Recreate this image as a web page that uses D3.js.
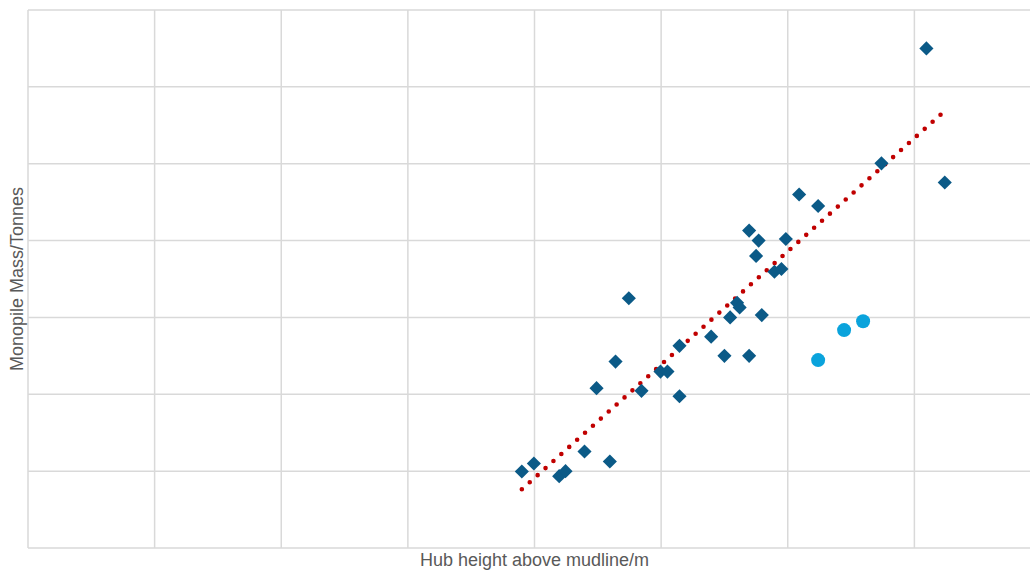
<!DOCTYPE html>
<html>
<head>
<meta charset="utf-8">
<title>Monopile mass vs hub height</title>
<script src="https://d3js.org/d3.v7.min.js"></script>
<style>
  body { margin: 0; background: #fff; }
  .grid line { stroke: #d9d9d9; stroke-width: 1.5; }
  .label { font-family: "Liberation Sans", Arial, sans-serif; font-size: 18px; fill: #595959; }
</style>
</head>
<body>
<svg id="chart" width="1030" height="571"></svg>
<script>
// hub height above mudline (m) and monopile mass (t)
var hubHeight = [78.0, 79.9, 83.9, 84.9, 87.9, 91.9, 89.8, 92.8, 94.9, 96.9,
                 99.9, 101.0, 102.9, 102.9, 107.9, 110.0, 113.9, 110.9, 112.0, 112.4,
                 115.9, 113.9, 115.4, 115.0, 117.9, 119.0, 119.7, 121.8, 124.8, 134.8,
                 141.9, 144.8];
var pileMass = [199, 220, 187, 200, 251, 225, 416, 485, 650, 409,
                459, 459, 526, 395, 550, 500, 500, 600, 638, 626,
                606, 826, 800, 760, 719, 726, 804, 920, 890, 1001,
                1300, 951];
// second series (circles)
var hubHeight2 = [124.8, 128.9, 131.9];
var pileMass2 = [489, 567, 590];

var xTicks = [0, 20, 40, 60, 80, 100, 120, 140, 160];
var yTicks = [0, 200, 400, 600, 800, 1000, 1200, 1400];

var margin = {top: 10, left: 28},
    plotW = 1013, plotH = 538;

var svg = d3.select("#chart");
var x = d3.scaleLinear().domain([0, 160]).range([margin.left, margin.left + plotW]);
var y = d3.scaleLinear().domain([0, 1400]).range([margin.top + plotH, margin.top]);

// gridlines
var grid = svg.append("g").attr("class", "grid");
grid.selectAll(".vx").data(xTicks).enter().append("line")
    .attr("x1", d => x(d)).attr("x2", d => x(d))
    .attr("y1", y(0)).attr("y2", y(1400));
grid.selectAll(".hy").data(yTicks).enter().append("line")
    .attr("x1", x(0)).attr("x2", x(160))
    .attr("y1", d => y(d)).attr("y2", d => y(d));

// linear trendline through the diamond series
var n = hubHeight.length,
    mx = d3.mean(hubHeight), my = d3.mean(pileMass);
var sxy = d3.sum(hubHeight, (v, i) => (v - mx) * (pileMass[i] - my)),
    sxx = d3.sum(hubHeight, v => (v - mx) * (v - mx));
var slope = sxy / sxx, intercept = my - slope * mx;
var xr = d3.extent(hubHeight);

svg.append("path")
    .datum(xr)
    .attr("d", d3.line().x(d => x(d)).y(d => y(intercept + slope * d)))
    .attr("fill", "none")
    .attr("stroke", "#c00000")
    .attr("stroke-width", 4.6)
    .attr("stroke-linecap", "round")
    .attr("stroke-dasharray", "0,10.6");

// diamonds
var diamond = d3.symbol().type(d3.symbolSquare).size(100);
svg.selectAll(".dia").data(d3.range(n)).enter().append("path")
    .attr("d", diamond)
    .attr("transform", i => "translate(" + x(hubHeight[i]) + "," + y(pileMass[i]) + ") rotate(45)")
    .attr("fill", "#0b5a87");

// circles
svg.selectAll(".cir").data(d3.range(hubHeight2.length)).enter().append("circle")
    .attr("cx", i => x(hubHeight2[i]))
    .attr("cy", i => y(pileMass2[i]))
    .attr("r", 7)
    .attr("fill", "#0aa3dc");

// axis titles
svg.append("text").attr("class", "label")
    .attr("x", x(80)).attr("y", 566)
    .attr("text-anchor", "middle")
    .text("Hub height above mudline/m");
svg.append("text").attr("class", "label")
    .attr("transform", "translate(23," + y(700) + ") rotate(-90)")
    .attr("text-anchor", "middle")
    .text("Monopile Mass/Tonnes");
</script>
</body>
</html>
